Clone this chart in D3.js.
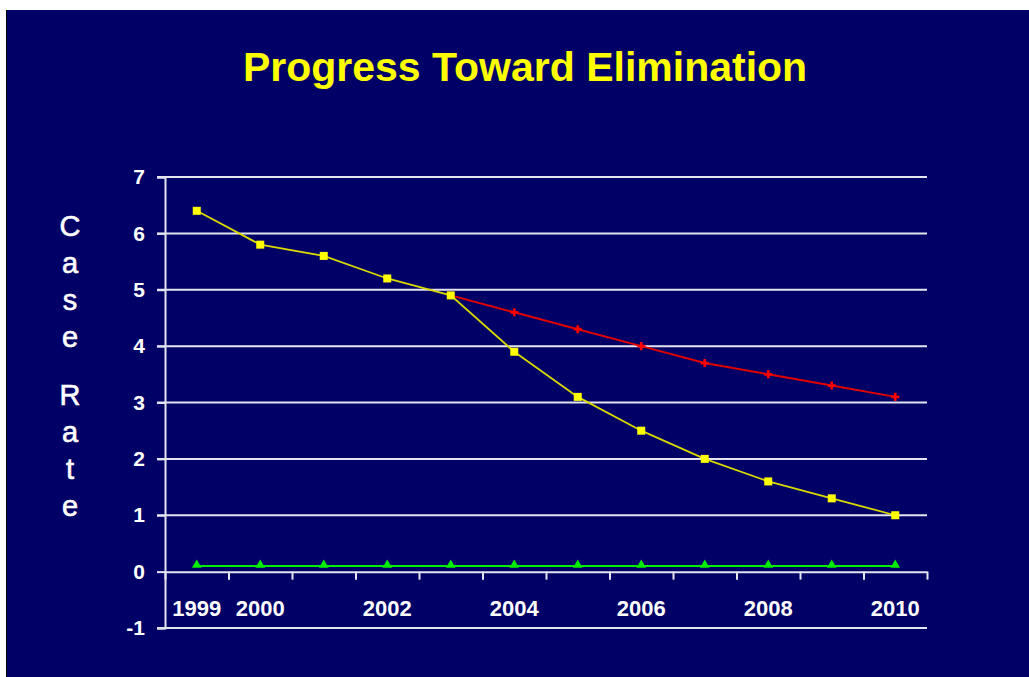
<!DOCTYPE html>
<html lang="en">
<head>
    <meta charset="UTF-8">
    <title>Progress Toward Elimination</title>
    <script src="https://d3js.org/d3.v7.min.js"></script>
    <style>
        body { margin: 0; background: #ffffff; }
        text { font-family: Arial, "Liberation Sans", sans-serif; font-weight: bold; }
    </style>
</head>
<body>
    <div id="chart"></div>
    <script>
        const width = 1029;
        const height = 677;

        // chart data
        const years = ["1999", "2000", "2001", "2002", "2003", "2004", "2005", "2006", "2007", "2008", "2009", "2010"];
        const yearLabels = ["1999", "2000", "2002", "2004", "2006", "2008", "2010"];
        const actualRate = [6.4, 5.8, 5.6, 5.2, 4.9, 3.9, 3.1, 2.5, 2.0, 1.6, 1.3, 1.0];
        const targetYears = ["2003", "2004", "2005", "2006", "2007", "2008", "2009", "2010"];
        const targetRate = [4.9, 4.6, 4.3, 4.0, 3.7, 3.5, 3.3, 3.1];
        const goalRate = [0.1, 0.1, 0.1, 0.1, 0.1, 0.1, 0.1, 0.1, 0.1, 0.1, 0.1, 0.1];
        const yTicks = [-1, 0, 1, 2, 3, 4, 5, 6, 7];
        const axisTitle = ["C", "a", "s", "e", "R", "a", "t", "e"];

        const plot = { left: 165, right: 927, top: 177, bottom: 628 };
        const axisColor = "#e4e4f0";

        const svg = d3.select("#chart").append("svg")
            .attr("width", width)
            .attr("height", height);

        // slide background
        svg.append("rect").attr("x", 6).attr("y", 10)
            .attr("width", width - 6).attr("height", height - 10)
            .attr("fill", "#000000");
        svg.append("rect").attr("x", 7).attr("y", 10)
            .attr("width", width - 7).attr("height", height - 10)
            .attr("fill", "#000066");

        const x = d3.scaleBand()
            .domain(years)
            .range([plot.left, plot.right]);

        const y = d3.scaleLinear()
            .domain([-1, 7])
            .range([plot.bottom, plot.top]);

        const cx = d => x(d) + x.bandwidth() / 2;

        // title
        svg.append("text")
            .attr("x", 525).attr("y", 81)
            .attr("text-anchor", "middle")
            .attr("fill", "#ffff00")
            .style("font-size", "41px")
            .text("Progress Toward Elimination");

        // horizontal gridlines (zero line is the x axis)
        svg.append("g")
            .selectAll("line")
            .data(yTicks.filter(t => t !== 0))
            .join("line")
            .attr("x1", plot.left - 8).attr("x2", plot.right)
            .attr("y1", d => y(d)).attr("y2", d => y(d))
            .attr("stroke", axisColor).attr("stroke-width", 2);

        // y axis
        const yAxis = svg.append("g")
            .attr("transform", `translate(${plot.left},0)`)
            .call(d3.axisLeft(y).tickValues(yTicks).tickSize(8).tickPadding(12).tickFormat(d => String(d)));
        yAxis.select(".domain").attr("stroke", axisColor).attr("stroke-width", 2);
        yAxis.selectAll(".tick line").attr("stroke", axisColor).attr("stroke-width", 2);
        yAxis.selectAll(".tick text")
            .attr("fill", "#ffffff")
            .style("font-size", "21px")
            .style("font-family", "Arial, 'Liberation Sans', sans-serif")
            .style("font-weight", "bold");

        // x axis at zero, ticks between years
        const xTickScale = d3.scaleLinear().domain([0, years.length]).range([plot.left, plot.right]);
        const xAxis = svg.append("g")
            .attr("transform", `translate(0,${y(0)})`)
            .call(d3.axisBottom(xTickScale).tickValues(d3.range(0, years.length + 1)).tickSize(8).tickSizeOuter(0).tickFormat(""));
        xAxis.select(".domain").attr("stroke", axisColor).attr("stroke-width", 2);
        xAxis.selectAll(".tick line").attr("stroke", axisColor).attr("stroke-width", 2);

        // x labels
        svg.append("g")
            .selectAll("text")
            .data(yearLabels)
            .join("text")
            .attr("x", d => cx(d))
            .attr("y", 616)
            .attr("text-anchor", "middle")
            .attr("fill", "#ffffff")
            .style("font-size", "22px")
            .text(d => d);

        // y axis title, stacked letters
        svg.append("g")
            .selectAll("text")
            .data(axisTitle)
            .join("text")
            .attr("x", 70)
            .attr("y", (d, i) => 236 + i * 37 + (i >= 4 ? 21 : 0))
            .attr("text-anchor", "middle")
            .attr("fill", "#ffffff")
            .style("font-size", "29px")
            .style("font-weight", "normal")
            .attr("stroke", "#ffffff")
            .attr("stroke-width", 0.6)
            .text(d => d);

        const line = d3.line().x(d => cx(d[0])).y(d => y(d[1]));

        // green goal line
        const goal = years.map((yr, i) => [yr, goalRate[i]]);
        svg.append("path").datum(goal)
            .attr("d", line).attr("fill", "none")
            .attr("stroke", "#00ee00").attr("stroke-width", 2);
        svg.append("g").selectAll("path")
            .data(goal)
            .join("path")
            .attr("transform", d => `translate(${cx(d[0])},${y(d[1]) - 1})`)
            .attr("d", d3.symbol(d3.symbolTriangle, 40))
            .attr("fill", "#00ee00");

        // red target line
        const target = targetYears.map((yr, i) => [yr, targetRate[i]]);
        svg.append("path").datum(target)
            .attr("d", line).attr("fill", "none")
            .attr("stroke", "#e00000").attr("stroke-width", 2);
        svg.append("g").selectAll("path")
            .data(target.slice(1))
            .join("path")
            .attr("transform", d => `translate(${cx(d[0])},${y(d[1])})`)
            .attr("d", d3.symbol(d3.symbolCross, 36))
            .attr("fill", "#ff0000");

        // yellow actual line
        const actual = years.map((yr, i) => [yr, actualRate[i]]);
        svg.append("path").datum(actual)
            .attr("d", line).attr("fill", "none")
            .attr("stroke", "#d8d800").attr("stroke-width", 1.8);
        svg.append("g").selectAll("rect")
            .data(actual)
            .join("rect")
            .attr("x", d => cx(d[0]) - 4)
            .attr("y", d => y(d[1]) - 4)
            .attr("width", 8).attr("height", 8)
            .attr("fill", "#ffff00");
    </script>
</body>
</html>
